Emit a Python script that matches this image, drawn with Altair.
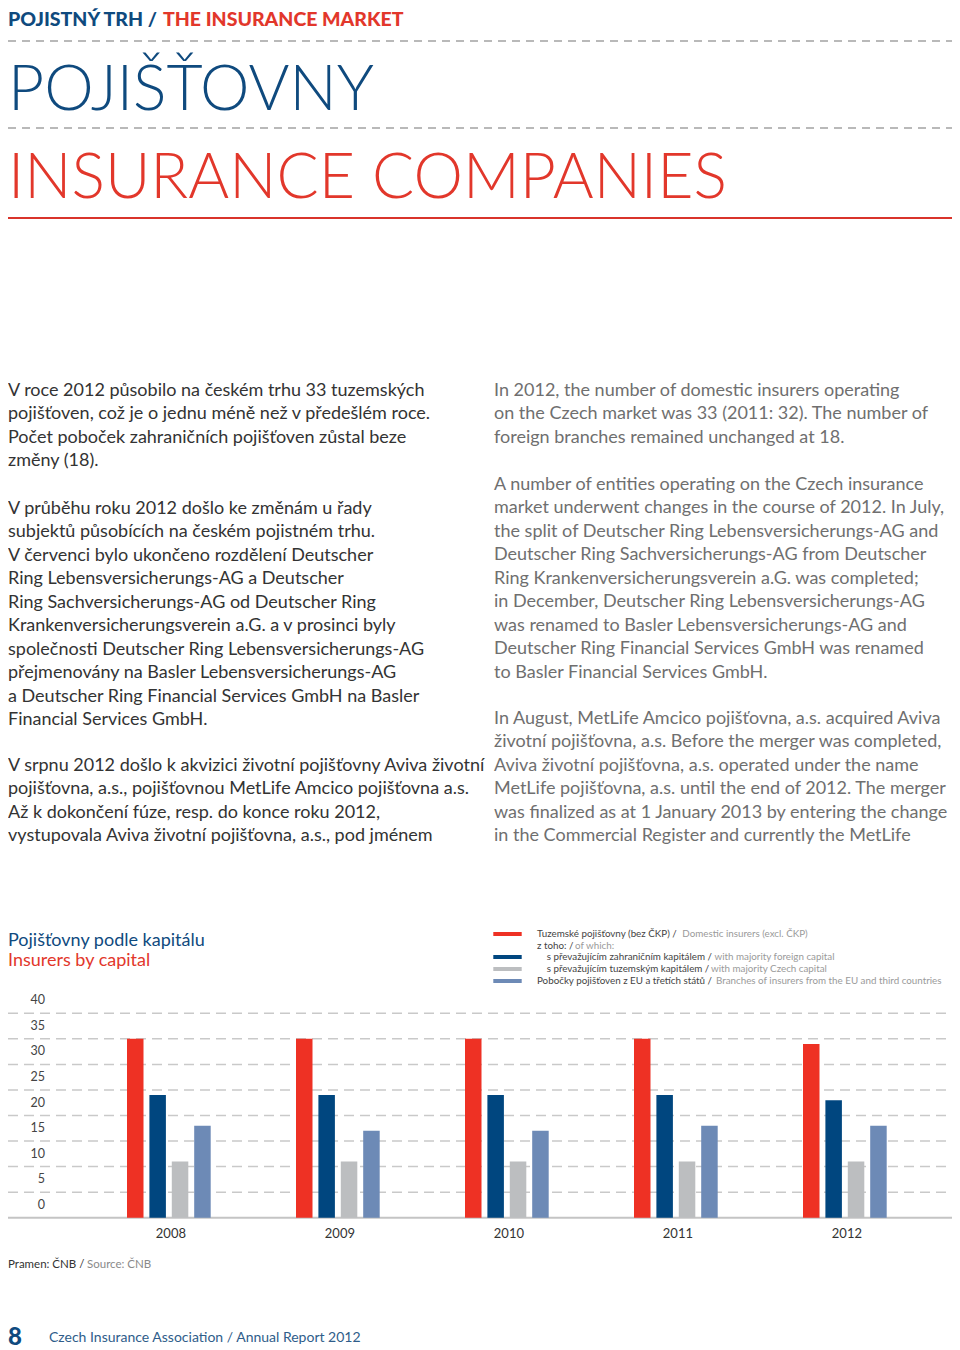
import altair as alt
import pandas as pd

# ---------------- data ----------------
years = ["2008", "2009", "2010", "2011", "2012"]
series_keys = ["domestic", "foreign", "czech", "branches"]
domestic = [35, 35, 35, 35, 34]
foreign = [24, 24, 24, 24, 23]
czech = [11, 11, 11, 11, 11]
branches = [18, 17, 17, 18, 18]
y_ticks = [0, 5, 10, 15, 20, 25, 30, 35, 40]

series_colors = ["#ee3124", "#00467f", "#bcbec0", "#6d8ab6"]

left_p1 = [
    "V roce 2012 působilo na českém trhu 33 tuzemských",
    "pojišťoven, což je o jednu méně než v předešlém roce.",
    "Počet poboček zahraničních pojišťoven zůstal beze",
    "změny (18).",
]
left_p2 = [
    "V průběhu roku 2012 došlo ke změnám u řady",
    "subjektů působících na českém pojistném trhu.",
    "V červenci bylo ukončeno rozdělení Deutscher",
    "Ring Lebensversicherungs-AG a Deutscher",
    "Ring Sachversicherungs-AG od Deutscher Ring",
    "Krankenversicherungsverein a.G. a v prosinci byly",
    "společnosti Deutscher Ring Lebensversicherungs-AG",
    "přejmenovány na Basler Lebensversicherungs-AG",
    "a Deutscher Ring Financial Services GmbH na Basler",
    "Financial Services GmbH.",
]
left_p3 = [
    "V srpnu 2012 došlo k akvizici životní pojišťovny Aviva životní",
    "pojišťovna, a.s., pojišťovnou MetLife Amcico pojišťovna a.s.",
    "Až k dokončení fúze, resp. do konce roku 2012,",
    "vystupovala Aviva životní pojišťovna, a.s., pod jménem",
]
right_p1 = [
    "In 2012, the number of domestic insurers operating",
    "on the Czech market was 33 (2011: 32). The number of",
    "foreign branches remained unchanged at 18.",
]
right_p2 = [
    "A number of entities operating on the Czech insurance",
    "market underwent changes in the course of 2012. In July,",
    "the split of Deutscher Ring Lebensversicherungs-AG and",
    "Deutscher Ring Sachversicherungs-AG from Deutscher",
    "Ring Krankenversicherungsverein a.G. was completed;",
    "in December, Deutscher Ring Lebensversicherungs-AG",
    "was renamed to Basler Lebensversicherungs-AG and",
    "Deutscher Ring Financial Services GmbH was renamed",
    "to Basler Financial Services GmbH.",
]
right_p3 = [
    "In August, MetLife Amcico pojišťovna, a.s. acquired Aviva",
    "životní pojišťovna, a.s. Before the merger was completed,",
    "Aviva životní pojišťovna, a.s. operated under the name",
    "MetLife pojišťovna, a.s. until the end of 2012. The merger",
    "was finalized as at 1 January 2013 by entering the change",
    "in the Commercial Register and currently the MetLife",
]
legend_cz = [
    "Tuzemské pojišťovny (bez ČKP) /",
    "z toho: /",
    "s převažujícím zahraničním kapitálem /",
    "s převažujícím tuzemským kapitálem /",
    "Pobočky pojišťoven z EU a třetích států /",
]
legend_en = [
    "Domestic insurers (excl. ČKP)",
    "of which:",
    "with majority foreign capital",
    "with majority Czech capital",
    "Branches of insurers from the EU and third countries",
]

# ---------------- tables ----------------
rows = []
for i, y in enumerate(years):
    for key, vals in zip(series_keys, [domestic, foreign, czech, branches]):
        rows.append({"year": y, "series": key, "value": vals[i]})
df = pd.DataFrame(rows)
ticks_df = pd.DataFrame({"tick": y_ticks})
years_df = pd.DataFrame({"year": years})
one = pd.DataFrame({"k": [0]})

W, H = 944, 1342
FONT = "Lato"
NAVY = "#0f4a7e"
RED = "#e2372b"

x_scale = alt.Scale(domain=years, range=[76.4, 921.4], paddingInner=0, paddingOuter=0)
y_scale = alt.Scale(domain=[0, 40], range=[1209.7, 1005.3])

bars = alt.Chart(df).mark_bar().encode(
    x=alt.X("year:N", scale=x_scale, axis=None),
    xOffset=alt.XOffset("series:N", sort=series_keys,
                        scale=alt.Scale(domain=series_keys, range=[42.6, 126.3],
                                        paddingInner=0.263, paddingOuter=0)),
    y=alt.Y("value:Q", scale=y_scale, axis=None),
    color=alt.Color("series:N", scale=alt.Scale(domain=series_keys, range=series_colors),
                    legend=None),
)

grid = alt.Chart(ticks_df).transform_filter("datum.tick > 0").mark_rule(
    stroke="#c9c9c9", strokeWidth=1.5, strokeDash=[10, 6]
).encode(y=alt.Y("tick:Q", scale=y_scale, axis=None), x=alt.value(0), x2=alt.value(W))

baseline = alt.Chart(ticks_df).transform_filter("datum.tick == 0").mark_rule(
    stroke="#c4c4c4", strokeWidth=2
).encode(y=alt.Y("tick:Q", scale=y_scale, axis=None), x=alt.value(0), x2=alt.value(W))

ylabels = alt.Chart(ticks_df).mark_text(
    align="right", baseline="middle", dy=-13, font=FONT, fontSize=12.5, color="#444444"
).encode(y=alt.Y("tick:Q", scale=y_scale, axis=None), x=alt.value(37), text="tick:Q")

xlabels = alt.Chart(years_df).mark_text(
    align="center", baseline="middle", dx=2, font=FONT, fontSize=13, color="#333333"
).encode(x=alt.X("year:N", scale=x_scale, axis=None), y=alt.value(1226), text="year:N")


def txt(text, x, y, size, color, weight="normal", font=FONT, baseline="alphabetic", lh=None):
    kw = dict(text=text, align="left", baseline=baseline, font=font, fontSize=size,
              color=color, fontWeight=weight)
    if lh is not None:
        kw["lineHeight"] = lh
    return alt.Chart(one).mark_text(**kw).encode(x=alt.value(x), y=alt.value(y))


def hrule(y, color, width, dash=None):
    kw = dict(stroke=color, strokeWidth=width)
    if dash:
        kw["strokeDash"] = dash
    return alt.Chart(one).mark_rule(**kw).encode(x=alt.value(0), x2=alt.value(947), y=alt.value(y))


def swatch(y0, color):
    return alt.Chart(one).mark_rect(color=color).encode(
        x=alt.value(485.3), x2=alt.value(513.7), y=alt.value(y0), y2=alt.value(y0 + 4))


LH = 23.45
BODY = 18
layers = [
    # header
    txt("POJISTNÝ TRH /", 0, 18, 19.5, NAVY, weight=900),
    txt("THE INSURANCE MARKET", 155, 18, 19.5, RED, weight=900),
    hrule(33, "#a3a3a3", 1.5, [8, 6]),
    txt("POJIŠŤOVNY", 0, 102, 62.5, NAVY, weight=300),
    hrule(120, "#a3a3a3", 1.5, [8, 6]),
    txt("INSURANCE COMPANIES", 0, 190, 62.5, RED, weight=300),
    hrule(210, "#d9342b", 2),
    # body text
    txt(left_p1, 0, 388, BODY, "#333333", lh=LH),
    txt(left_p2, 0, 506, BODY, "#333333", lh=LH),
    txt(left_p3, 0, 763, BODY, "#333333", lh=LH),
    txt(right_p1, 486, 388, BODY, "#6f6f6f", lh=LH),
    txt(right_p2, 486, 482, BODY, "#6f6f6f", lh=LH),
    txt(right_p3, 486, 716, BODY, "#6f6f6f", lh=LH),
    # chart title
    txt("Pojišťovny podle kapitálu", 0, 937.7, 18, NAVY),
    txt("Insurers by capital", 0, 957.7, 18, RED),
    # legend
    swatch(924, series_colors[0]),
    swatch(947, series_colors[1]),
    swatch(959, series_colors[2]),
    swatch(971, series_colors[3]),
]
leg_y = [926, 938, 949, 961, 973.3]
leg_x_cz = [529, 529, 538.7, 538.7, 529]
leg_x_en = [674.3, 567, 706.5, 703, 708]
for i in range(5):
    layers.append(txt(legend_cz[i], leg_x_cz[i], leg_y[i], 9.8, "#444444", baseline="middle"))
    layers.append(txt(legend_en[i], leg_x_en[i], leg_y[i], 9.8, "#9a9a9a", baseline="middle"))

layers += [grid, baseline, bars, ylabels, xlabels,
           # footer
           txt("Pramen: ČNB /", 0, 1257, 11.5, "#333333", baseline="middle"),
           txt("Source: ČNB", 79, 1257, 11.5, "#8a8a8a", baseline="middle"),
           txt("8", 0, 1330, 24, NAVY, weight=900, baseline="middle"),
           txt("Czech Insurance Association / Annual Report 2012", 41, 1330, 14, "#2f5d8a",
               baseline="middle"),
           ]

chart = alt.layer(*layers).properties(
    width=W, height=H, autosize=alt.AutoSizeParams(type="none"), padding=0
).configure_view(stroke=None)

chart.save("out.html", embed_options={"renderer": "svg", "actions": False})
